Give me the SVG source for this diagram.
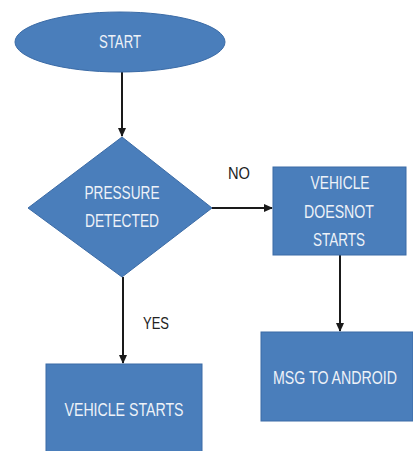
<svg xmlns="http://www.w3.org/2000/svg" width="413" height="451" viewBox="0 0 413 451">
<defs>
<marker id="arr" markerWidth="10" markerHeight="10" refX="8" refY="5" orient="auto" markerUnits="userSpaceOnUse">
<path d="M0,1 L9,5 L0,9 Z" fill="#1a1a1a"/>
</marker>
<style>
.shape{fill:#4a7ebb;stroke:#3b6ba6;stroke-width:1}
.t{font-family:"Liberation Sans",Arial,sans-serif;font-size:17.5px;fill:#eef2f8;text-anchor:middle}
.lbl{font-family:"Liberation Sans",Arial,sans-serif;font-size:17px;fill:#222;text-anchor:middle}
.conn{stroke:#1a1a1a;stroke-width:2;fill:none;marker-end:url(#arr)}
</style>
</defs>
<rect width="413" height="451" fill="#ffffff"/>
<g id="connectors">
<line class="conn" x1="122" y1="72" x2="122" y2="136"/>
<line class="conn" x1="212" y1="208" x2="272" y2="208"/>
<line class="conn" x1="123" y1="277" x2="123" y2="363"/>
<line class="conn" x1="340" y1="255" x2="340" y2="331"/>
</g>
<g id="start">
<ellipse class="shape" cx="120" cy="42" rx="105" ry="30"/>
<text class="t" x="120" y="48" textLength="42" lengthAdjust="spacingAndGlyphs">START</text>
</g>
<g id="pressure">
<polygon class="shape" points="122,137 212,208 122,277 28,208"/>
<text class="t" x="122" y="199" textLength="75" lengthAdjust="spacingAndGlyphs">PRESSURE</text>
<text class="t" x="122" y="227" textLength="74" lengthAdjust="spacingAndGlyphs">DETECTED</text>
</g>
<g id="no-start">
<rect class="shape" x="273" y="167" width="133" height="88"/>
<text class="t" x="340" y="189" textLength="59" lengthAdjust="spacingAndGlyphs">VEHICLE</text>
<text class="t" x="339" y="218" textLength="70" lengthAdjust="spacingAndGlyphs">DOESNOT</text>
<text class="t" x="339" y="246" textLength="52" lengthAdjust="spacingAndGlyphs">STARTS</text>
</g>
<g id="msg">
<rect class="shape" x="261" y="332" width="152" height="89"/>
<text class="t" x="335" y="384" textLength="124" lengthAdjust="spacingAndGlyphs">MSG TO ANDROID</text>
</g>
<g id="vehicle-starts">
<rect class="shape" x="46" y="364" width="156" height="95"/>
<text class="t" x="124" y="416" textLength="119" lengthAdjust="spacingAndGlyphs">VEHICLE STARTS</text>
</g>
<g id="labels">
<text class="lbl" x="239" y="179" textLength="22" lengthAdjust="spacingAndGlyphs">NO</text>
<text class="lbl" x="156" y="329" textLength="26" lengthAdjust="spacingAndGlyphs">YES</text>
</g>
</svg>
